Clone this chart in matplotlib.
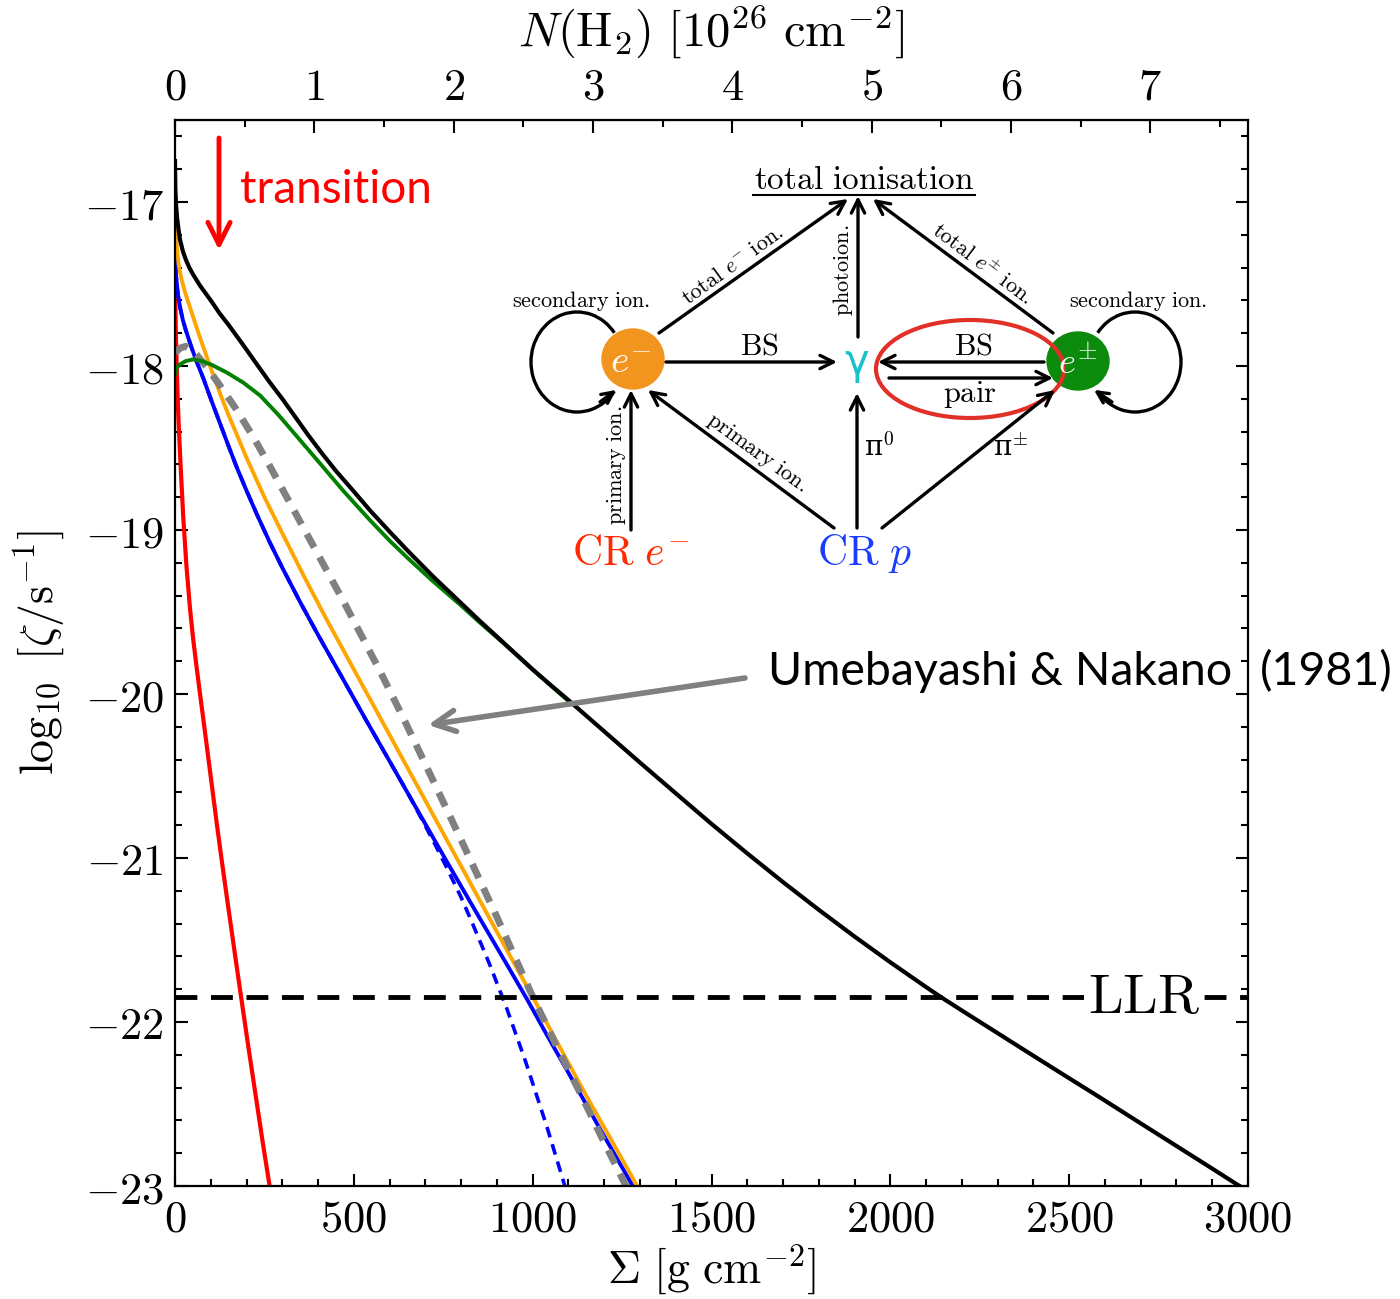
import matplotlib.pyplot as plt
from matplotlib.patches import Ellipse, Arc
from matplotlib.ticker import MultipleLocator, FuncFormatter

plt.rcParams['mathtext.fontset'] = 'cm'
plt.rcParams['font.family'] = 'serif'
plt.rcParams['font.serif'] = ['DejaVu Serif']

# g cm^-2 per 1e26 H2 cm^-2
SIGMA_PER_N = 389.5
LLR = -21.85

# total ionisation rate
sig_total = [0, 1, 3, 6, 10, 14, 22, 30, 40, 50, 70, 100, 125, 150, 190, 229, 265, 300,
             336, 372, 410, 450, 500, 545, 600, 650, 720, 797, 850, 900, 950, 1000, 1050,
             1096, 1200, 1300, 1412, 1500, 1600, 1700, 1800, 1900, 2000, 2100, 2140, 2200,
             2300, 2400, 2500, 2586, 2700, 2800, 2900, 2969, 3000]
z_total = [-16.75, -16.92, -17.02, -17.1, -17.17, -17.23, -17.3, -17.35, -17.4, -17.44,
           -17.51, -17.6, -17.68, -17.75, -17.87, -17.99, -18.1, -18.2, -18.31, -18.42,
           -18.53, -18.64, -18.765, -18.88, -19.01, -19.125, -19.28, -19.44, -19.55, -19.65,
           -19.75, -19.85, -19.945, -20.03, -20.228, -20.418, -20.628, -20.792, -20.972,
           -21.147, -21.316, -21.479, -21.636, -21.787, -21.846, -21.93, -22.068, -22.206,
           -22.343, -22.46, -22.618, -22.756, -22.894, -22.99, -23.03]

# e+- contribution
sig_epm = [0, 5, 14, 30, 50, 75, 100, 145, 190, 238, 290, 341, 400, 470, 545, 600, 650,
           720, 797, 850, 900, 950, 1000, 1096]
z_epm = [-18.05, -18.01, -17.99, -17.97, -17.96, -17.97, -17.99, -18.04, -18.1, -18.18,
         -18.3, -18.43, -18.58, -18.76, -18.94, -19.065, -19.17, -19.31, -19.455, -19.56,
         -19.655, -19.752, -19.852, -20.035]

# CR protons
sig_p = [0, 3, 8, 14, 22, 30, 45, 60, 80, 100, 131, 150, 173, 200, 230, 266, 300, 350,
         400, 470, 537, 600, 694, 770, 850, 920, 984, 1040, 1100, 1180, 1272, 1290]
z_p = [-17.3, -17.45, -17.56, -17.64, -17.72, -17.78, -17.88, -17.97, -18.08, -18.2,
       -18.38, -18.49, -18.62, -18.76, -18.91, -19.08, -19.23, -19.44, -19.64, -19.91,
       -20.17, -20.41, -20.77, -21.06, -21.36, -21.62, -21.86, -22.08, -22.31, -22.62,
       -22.97, -23.04]

# CR protons, primary only
sig_p_prim = [0, 3, 8, 14, 22, 30, 45, 60, 80, 100, 131, 150, 173, 200, 230, 266, 300,
              350, 400, 470, 537, 600, 650, 694, 730, 760, 800, 830, 880, 928, 980, 1040,
              1090, 1100]
z_p_prim = [-17.3, -17.45, -17.56, -17.64, -17.72, -17.78, -17.88, -17.97, -18.08, -18.2,
            -18.38, -18.49, -18.62, -18.76, -18.91, -19.08, -19.23, -19.44, -19.64, -19.91,
            -20.17, -20.41, -20.6, -20.78, -20.93, -21.06, -21.24, -21.39, -21.65, -21.92,
            -22.24, -22.64, -23.0, -23.08]

# CR electrons -> e- channel
sig_e = [0, 2, 5, 10, 18, 28, 40, 61, 80, 106, 130, 148, 175, 200, 250, 300, 360, 420,
         490, 565, 630, 700, 775, 850, 925, 1001, 1075, 1150, 1220, 1292, 1310]
z_e = [-17.0, -17.15, -17.27, -17.38, -17.47, -17.55, -17.63, -17.77, -17.89, -18.05,
       -18.19, -18.29, -18.43, -18.56, -18.8, -19.02, -19.28, -19.53, -19.81, -20.11,
       -20.37, -20.65, -20.95, -21.25, -21.55, -21.85, -22.15, -22.45, -22.72, -23.0, -23.07]

# primary CR electrons
sig_cre = [0, 0.5, 1, 2, 3, 5, 7.5, 10, 15, 23, 32, 42, 50, 60, 70, 79, 92, 105, 118,
           131, 145, 160, 175, 187, 205, 225, 245, 266, 280]
z_cre = [-17.35, -17.5, -17.6, -17.75, -17.85, -18.03, -18.2, -18.34, -18.58, -18.92,
         -19.22, -19.48, -19.65, -19.83, -20.0, -20.15, -20.37, -20.59, -20.81, -21.02,
         -21.24, -21.47, -21.7, -21.88, -22.15, -22.44, -22.73, -23.02, -23.22]

# Umebayashi & Nakano (1981)
sig_un = [0, 15, 30, 45, 60, 90, 126, 170, 218, 260, 300, 350, 400, 470, 530, 573, 637,
          720, 800, 900, 1001, 1070, 1130, 1190, 1252, 1265]
z_un = [-17.92, -17.89, -17.88, -17.9, -17.93, -18.01, -18.12, -18.26, -18.43, -18.59,
        -18.75, -18.95, -19.15, -19.43, -19.68, -19.86, -20.14, -20.52, -20.89, -21.36,
        -21.85, -22.16, -22.42, -22.69, -22.96, -23.02]

fig = plt.figure(figsize=(14, 12.99), dpi=100)
ax = fig.add_axes([175 / 1400, 113 / 1299, 1073 / 1400, 1066 / 1299])

ax.plot(sig_cre, z_cre, color='red', lw=3)
ax.plot(sig_p_prim, z_p_prim, color='blue', lw=2.6, ls=(0, (3, 2)))
ax.plot(sig_p, z_p, color='blue', lw=2.8)
ax.plot(sig_e, z_e, color='orange', lw=2.8)
ax.plot(sig_un, z_un, color='gray', lw=5, ls=(0, (2.2, 1.6)))
ax.plot(sig_epm, z_epm, color='green', lw=2.8)
ax.plot(sig_total, z_total, color='black', lw=3)
ax.axhline(LLR, color='black', lw=3.5, ls=(0, (4.5, 2.8)))
ax.text(2709, LLR, r'$\mathrm{LLR}$', fontsize=40, ha='center', va='center',
        bbox=dict(facecolor='white', edgecolor='none', pad=3))

ax.set_xlim(0, 3000)
ax.set_ylim(-23, -16.5)
ax.xaxis.set_major_locator(MultipleLocator(500))
ax.xaxis.set_minor_locator(MultipleLocator(100))
ax.yaxis.set_major_locator(MultipleLocator(1))
ax.yaxis.set_minor_locator(MultipleLocator(0.2))
fmt = FuncFormatter(lambda v, p: rf'${v:g}$')
ax.xaxis.set_major_formatter(fmt)
ax.yaxis.set_major_formatter(fmt)
ax.tick_params(which='both', direction='in', right=True, top=False, width=1.5)
ax.tick_params(which='major', length=9, labelsize=32, pad=8)
ax.tick_params(which='minor', length=5)
for s in ax.spines.values():
    s.set_linewidth(1.6)
ax.set_xlabel(r'$\Sigma\ [\mathrm{g\ cm}^{-2}]$', fontsize=33, labelpad=2)
ax.set_ylabel(r'$\log_{10}\ [\zeta/\mathrm{s}^{-1}]$', fontsize=33, labelpad=12)

top = ax.secondary_xaxis('top', functions=(lambda s: s / SIGMA_PER_N,
                                           lambda n: n * SIGMA_PER_N))
top.xaxis.set_major_locator(MultipleLocator(1))
top.xaxis.set_minor_locator(MultipleLocator(0.5))
top.xaxis.set_major_formatter(fmt)
top.tick_params(which='both', direction='in', width=1.5)
top.tick_params(which='major', length=9, labelsize=32, pad=8)
top.tick_params(which='minor', length=5)
top.set_xlabel(r'$N(\mathrm{H}_2)\ [10^{26}\ \mathrm{cm}^{-2}]$', fontsize=35, labelpad=14)

# overlay in pixel units for the annotations and the process diagram
ov = fig.add_axes([0, 0, 1, 1], zorder=5)
ov.set_xlim(0, 1400)
ov.set_ylim(1299, 0)
ov.axis('off')
ov.patch.set_alpha(0)


def arrow(p0, p1, color='black', lw=2.4, ms=24, style='->'):
    ov.annotate('', xy=p1, xytext=p0,
                arrowprops=dict(arrowstyle=style, lw=lw, color=color,
                                mutation_scale=ms, shrinkA=0, shrinkB=0))


# transition marker
arrow((219, 138), (219, 250), color='red', lw=3.5, ms=40)
ov.text(240, 190, 'transition', color='red', fontsize=33, family='Lato',
        ha='left', va='center')

# Umebayashi & Nakano pointer
arrow((745, 678), (428, 725), color='gray', lw=4, ms=38)
ov.text(768, 672, 'Umebayashi & Nakano', fontsize=33.5, family='Lato',
        ha='left', va='center')
ov.text(1260, 672, '(1981)', fontsize=33.5, family='Lato', ha='left', va='center')

# process diagram
lab = dict(fontsize=16, ha='center', va='center')
ov.text(864, 180, r'$\mathrm{total\ ionisation}$', fontsize=24, ha='center', va='center')
ov.plot([753, 975], [195, 195], color='black', lw=1.5)

ov.add_patch(Ellipse((633, 359), 62, 60, color='#f2951f'))
ov.text(631, 362, r'$e^{-}$', color='white', fontsize=28, ha='center', va='center')
ov.add_patch(Ellipse((1078, 361), 62, 58, color='#0b8a0b'))
ov.text(1078, 363, r'$e^{\pm}$', color='white', fontsize=26, ha='center', va='center')
ov.text(857, 362, 'γ', color='#19c2c8', fontsize=30, ha='center', va='center',
        family='DejaVu Sans')

ov.text(631, 553, r'$\mathrm{CR}\ e^{-}$', color='#ff2a00', fontsize=30,
        ha='center', va='center')
ov.text(865, 553, r'$\mathrm{CR}\ p$', color='#1a3cff', fontsize=30,
        ha='center', va='center')

# arrows into total ionisation
arrow((659, 333), (848, 199))
ov.text(733, 265, r'$\mathrm{total}\ e^{-}\ \mathrm{ion.}$', rotation=36, **lab)
arrow((858, 337), (858, 196))
ov.text(843, 270, r'$\mathrm{photoion.}$', rotation=90, **lab)
arrow((1053, 333), (873, 199))
ov.text(982, 264, r'$\mathrm{total}\ e^{\pm}\ \mathrm{ion.}$', rotation=-37, **lab)

# bremsstrahlung and pair production
arrow((666, 362), (837, 362))
ov.text(759, 346, r'$\mathrm{BS}$', fontsize=22, ha='center', va='center')
arrow((1044, 362), (878, 362))
ov.text(973, 346, r'$\mathrm{BS}$', fontsize=22, ha='center', va='center')
arrow((889, 378), (1053, 378))
ov.text(970, 394, r'$\mathrm{pair}$', fontsize=22, ha='center', va='center')
ov.add_patch(Ellipse((970, 369), 188, 98, fill=False, edgecolor='#e03028', lw=3))

# primary channels
arrow((631, 530), (631, 390))
ov.text(617, 465, r'$\mathrm{primary\ ion.}$', rotation=90, **lab)
arrow((834, 528), (648, 390))
ov.text(757, 453, r'$\mathrm{primary\ ion.}$', rotation=-36, **lab)
arrow((857, 528), (857, 393))
ov.text(879, 448, 'π$^{0}$', fontsize=20, ha='center', va='center')
arrow((882, 528), (1055, 390))
ov.text(1011, 448, 'π$^{\\pm}$', fontsize=20, ha='center', va='center')

# secondary ionisation loops
ov.add_patch(Arc((577, 362), 92, 100, theta1=38, theta2=322, lw=2.4, color='black'))
arrow((600, 402), (616, 390), ms=20)
ov.text(581, 301, r'$\mathrm{secondary\ ion.}$', **lab)
ov.add_patch(Arc((1135, 362), 92, 100, theta1=-142, theta2=142, lw=2.4, color='black'))
arrow((1112, 402), (1094, 390), ms=20)
ov.text(1138, 301, r'$\mathrm{secondary\ ion.}$', **lab)

fig.savefig('out.png', dpi=100)
